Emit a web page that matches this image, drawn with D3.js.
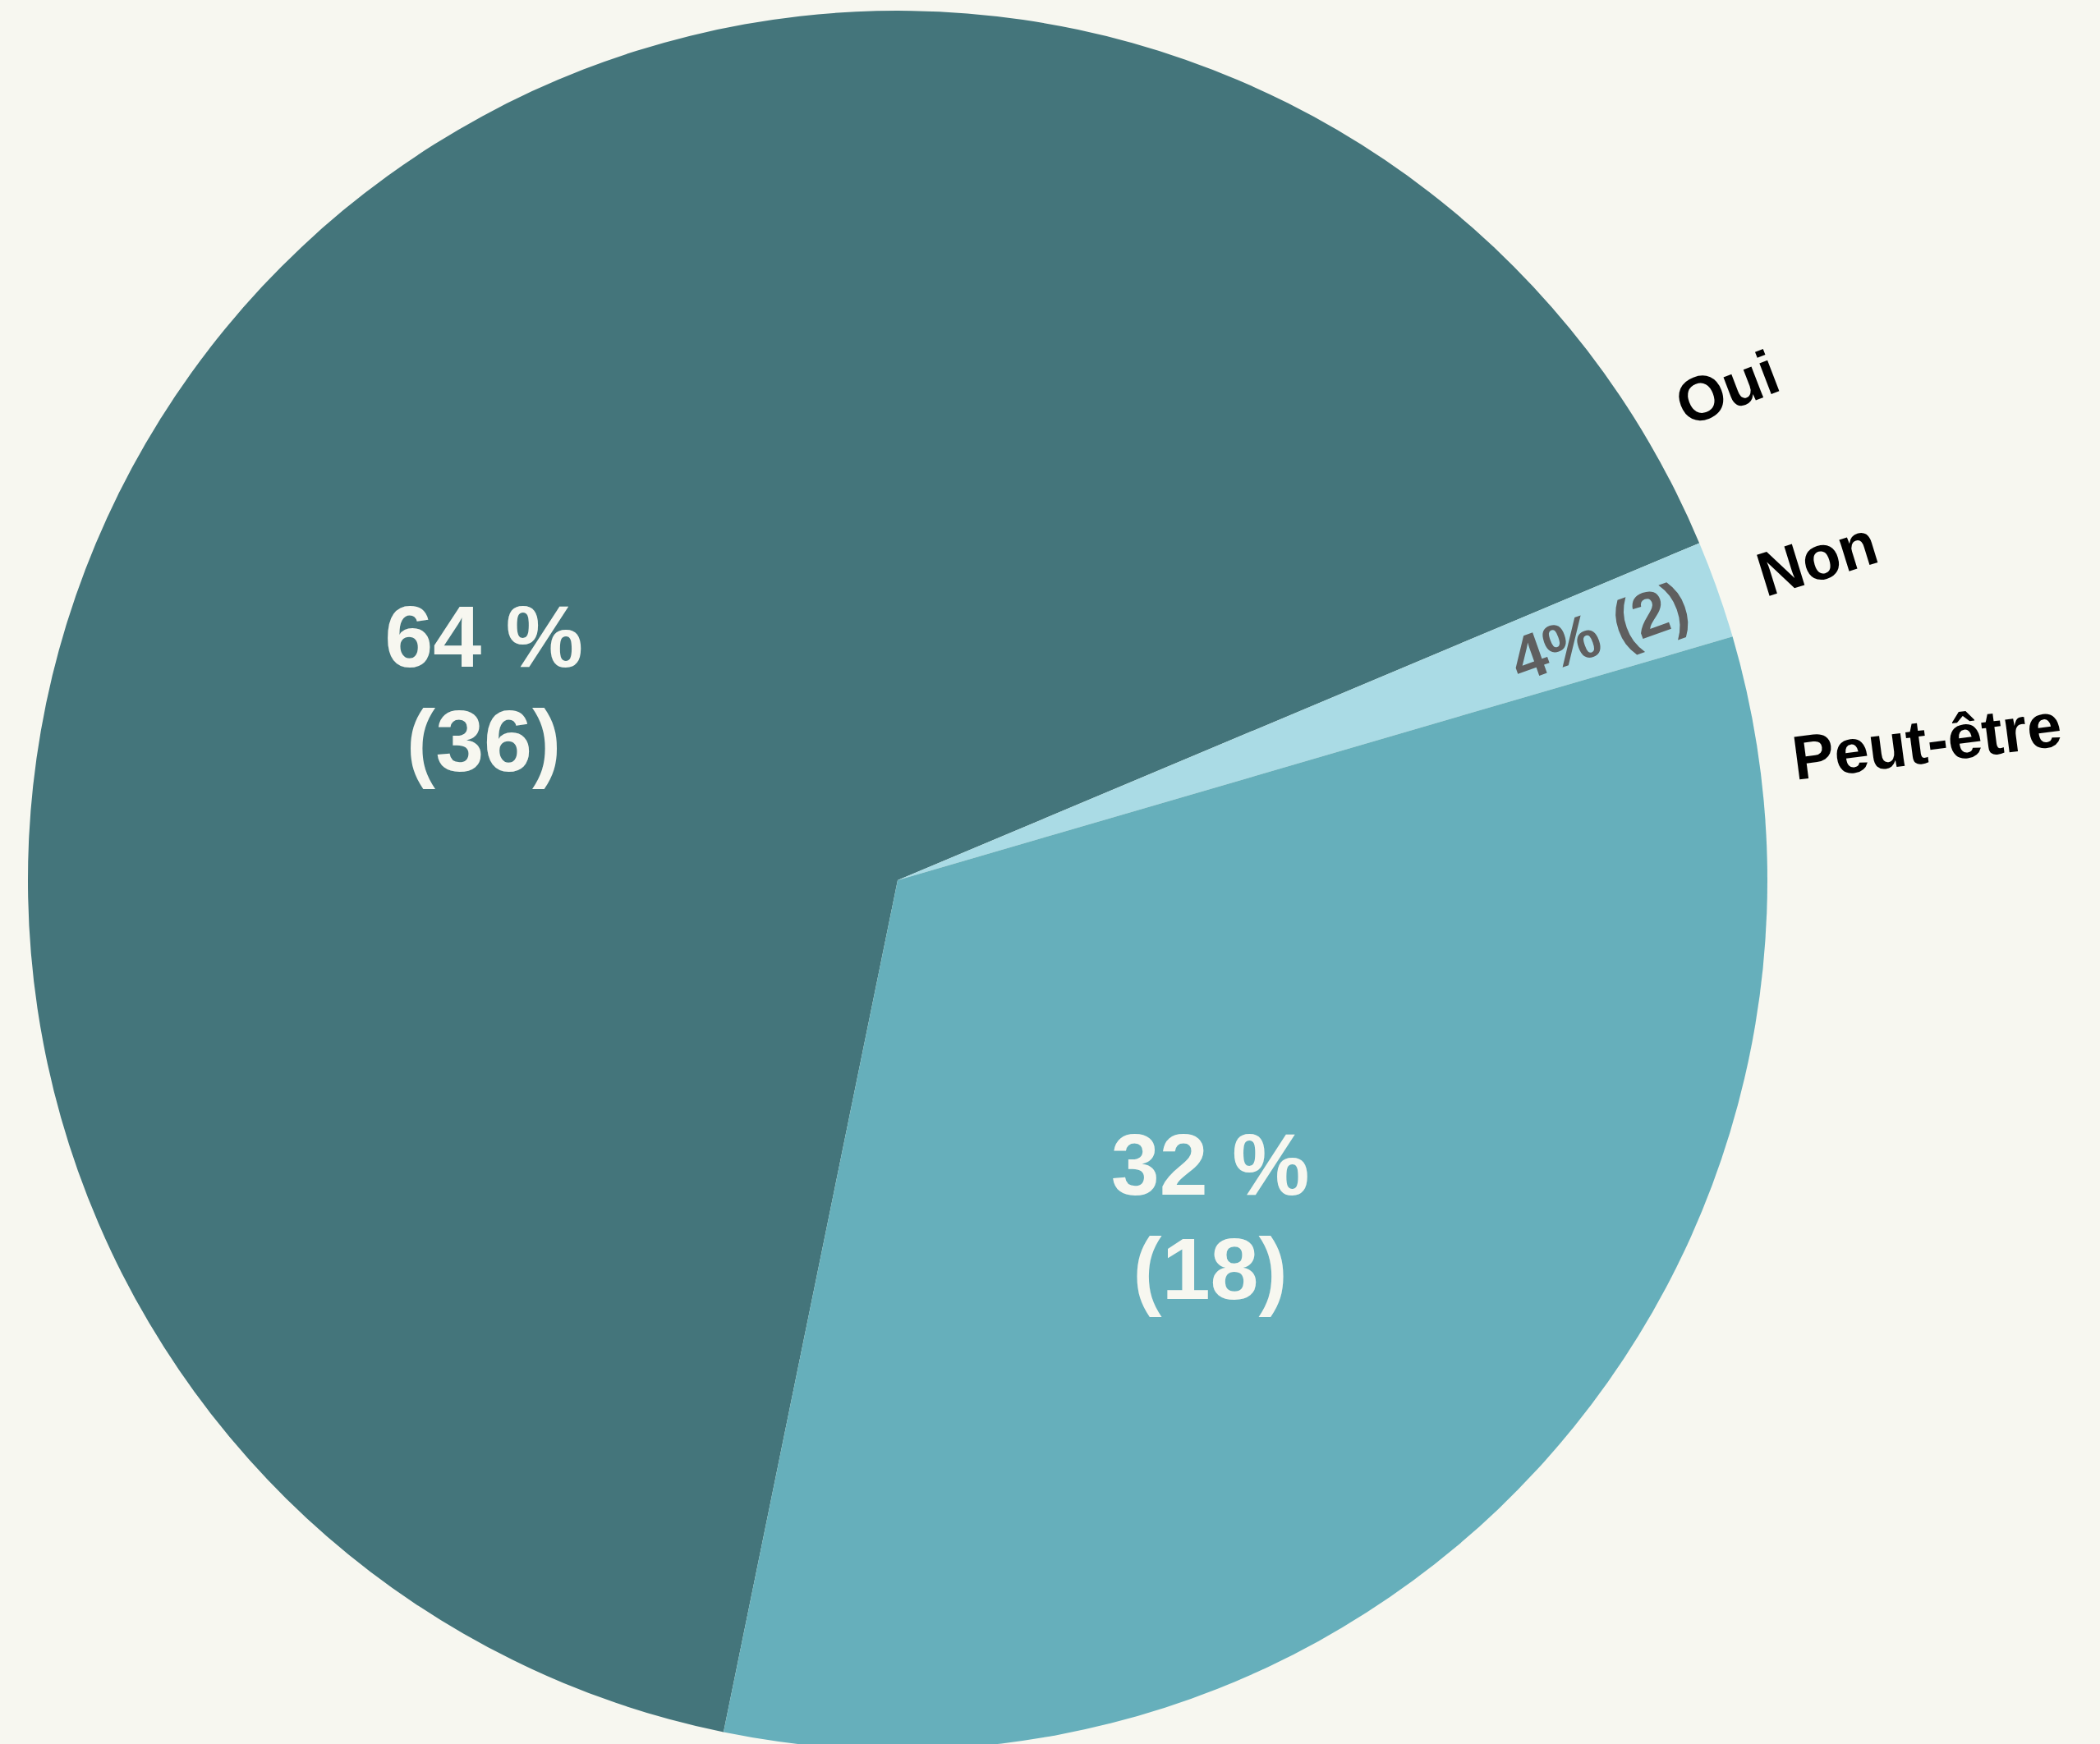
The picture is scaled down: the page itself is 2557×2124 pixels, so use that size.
<!DOCTYPE html>
<html>
<head>
<meta charset="utf-8">
<script src="https://cdn.jsdelivr.net/npm/d3@7"></script>
<style>
  html, body { margin: 0; padding: 0; background: #f7f7f0; }
  svg { display: block; }
  text { font-family: "Liberation Sans", Arial, Helvetica, sans-serif; font-weight: bold; }
</style>
</head>
<body>
<div id="vis1"></div>
<script>
// answers to the question
var categories = ["Oui", "Non", "Peut-être"];
// slice sizes as they are drawn in the picture (the small slice is drawn thinner than its label says)
var sliceValues = [36, 1, 18];
// what the labels say
var percentLabels = ["64 %", "4%", "32 %"];
var countLabels = ["(36)", "(2)", "(18)"];
var colors = ["#44757b", "#aadbe5", "#66afbb"];

var w = 2557;
var h = 2124;
var cx = 1093;
var cy = 1072;
var radius = 1059;
var deg = Math.PI / 180;
var startAt = 191.55 * deg;

var svg = d3.select("#vis1")
  .append("svg")
  .attr("width", w)
  .attr("height", h);

svg.append("rect")
  .attr("width", w)
  .attr("height", h)
  .attr("fill", "#f7f7f0");

var pie = d3.pie()
  .sort(null)
  .value(function(d) { return d; })
  .startAngle(startAt)
  .endAngle(startAt + 2 * Math.PI);

var arcs = pie(sliceValues);

var arc = d3.arc()
  .innerRadius(0)
  .outerRadius(radius);

var g = svg.append("g")
  .attr("transform", "translate(" + cx + "," + cy + ")");

g.selectAll("path")
  .data(arcs)
  .enter().append("path")
  .attr("d", arc)
  .attr("fill", function(d, i) { return colors[i]; });

// point at angle a (0 = top, clockwise) and distance r from the centre
function polar(a, r) {
  return [r * Math.sin(a), -r * Math.cos(a)];
}

// where each inside label sits: share of the slice angle, share of the radius
var insideSpot = [
  { frac: 0.439, rf: 0.525, mode: "stack" },
  { frac: 0.5, rf: 0.856, mode: "radial" },
  { frac: 0.537, rf: 0.527, mode: "stack" }
];

arcs.forEach(function(d, i) {
  var spot = insideSpot[i];
  var a = d.startAngle + spot.frac * (d.endAngle - d.startAngle);
  var p = polar(a, spot.rf * radius);
  if (spot.mode == "stack") {
    var fs = 106;
    var lh = 127;
    var y0 = p[1] - lh / 2 + 0.716 * fs / 2;
    var t = g.append("text")
      .attr("text-anchor", "middle")
      .attr("font-size", fs)
      .attr("fill", "#f7f7f0");
    t.append("tspan").attr("x", p[0]).attr("y", y0).text(percentLabels[i]);
    t.append("tspan").attr("x", p[0]).attr("y", y0 + lh).text(countLabels[i]);
  } else {
    var rot = a / deg - 90;
    g.append("text")
      .attr("transform", "translate(" + p[0] + "," + p[1] + ") rotate(" + rot + ")")
      .attr("text-anchor", "middle")
      .attr("dominant-baseline", "central")
      .attr("font-size", 76)
      .attr("fill", "#5f5f5f")
      .text(percentLabels[i] + " " + countLabels[i]);
  }
});

// category names outside the pie, tilted
var outsideSpot = [
  { angle: 59.3, rf: 1.109, rot: -21 },
  { angle: 70.7, rf: 1.12, rot: -17.2 },
  { angle: 82.3, rf: 1.194, rot: -7.4 }
];

g.selectAll("text.cat")
  .data(categories)
  .enter().append("text")
  .attr("class", "cat")
  .attr("transform", function(d, i) {
    var s = outsideSpot[i];
    var p = polar(s.angle * deg, s.rf * radius);
    return "translate(" + p[0] + "," + p[1] + ") rotate(" + s.rot + ")";
  })
  .attr("text-anchor", "middle")
  .attr("dominant-baseline", "central")
  .attr("font-size", 76)
  .attr("fill", "#000")
  .text(function(d) { return d; });
</script>
</body>
</html>
